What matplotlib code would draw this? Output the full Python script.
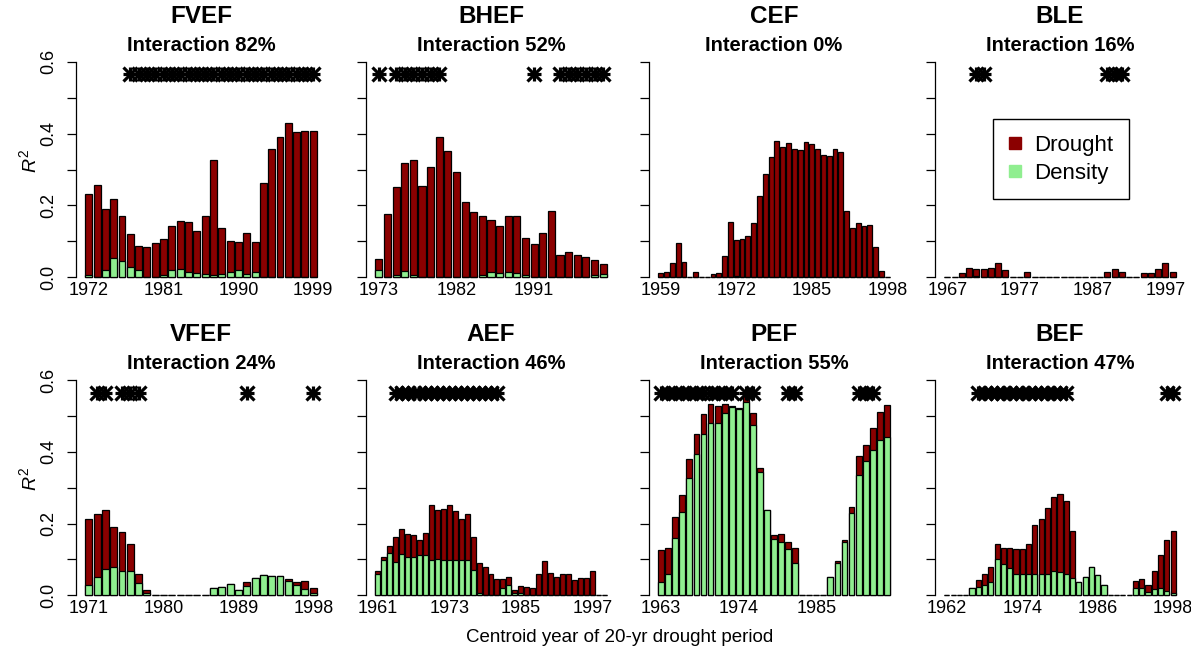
import numpy as np
import matplotlib
matplotlib.use('Agg')
import matplotlib.pyplot as plt
from matplotlib.lines import Line2D

plt.rcParams['font.family'] = ['Liberation Sans', 'DejaVu Sans']
plt.rcParams['mathtext.fontset'] = 'custom'
plt.rcParams['mathtext.rm'] = 'Liberation Sans'
plt.rcParams['mathtext.it'] = 'Liberation Sans:italic'

DROUGHT = '#8b0000'
DENSITY = '#90ee90'

# bar height = total R2, green part = density share
fvef_r2 = [0.232, 0.257, 0.190, 0.218, 0.172, 0.121, 0.088, 0.083, 0.096, 0.107,
           0.143, 0.156, 0.153, 0.129, 0.172, 0.328, 0.138, 0.102, 0.097, 0.122,
           0.097, 0.263, 0.356, 0.392, 0.430, 0.405, 0.408, 0.408]
fvef_dens = [0.005, 0, 0.020, 0.053, 0.044, 0.028, 0.020, 0, 0, 0.006,
             0.021, 0.022, 0.016, 0.013, 0.010, 0.005, 0.009, 0.014, 0.021, 0.008,
             0.015, 0, 0, 0, 0, 0, 0, 0]
fvef_stars = list(range(1977, 2000))

bhef_r2 = [0.050, 0.177, 0.252, 0.317, 0.328, 0.254, 0.307, 0.390, 0.352, 0.294,
           0.209, 0.182, 0.171, 0.160, 0.142, 0.170, 0.170, 0.110, 0.092, 0.124,
           0.185, 0.061, 0.070, 0.063, 0.056, 0.049, 0.036]
bhef_dens = [0.021, 0, 0.005, 0.017, 0.005, 0, 0, 0, 0, 0,
             0, 0, 0.007, 0.014, 0.013, 0.014, 0.013, 0.006, 0, 0,
             0, 0, 0, 0, 0, 0.006, 0.008]
bhef_stars = [1973, 1975, 1976, 1977, 1978, 1979, 1980, 1991,
              1994, 1995, 1996, 1997, 1998, 1999]

cef_r2 = [0.011, 0.016, 0.040, 0.096, 0.043, 0, 0.016, 0, 0, 0.008,
          0.011, 0.059, 0.155, 0.105, 0.108, 0.116, 0.152, 0.226, 0.289, 0.335,
          0.381, 0.364, 0.375, 0.358, 0.355, 0.378, 0.372, 0.358, 0.340, 0.338,
          0.358, 0.348, 0.186, 0.136, 0.151, 0.142, 0.145, 0.083, 0.018, 0]
cef_dens = [0] * 13 + [0.003] + [0] * 26
cef_stars = []

ble_r2 = [0, 0, 0.013, 0.025, 0.024, 0.024, 0.025, 0.041, 0.020, 0,
          0, 0.016, 0, 0, 0, 0, 0, 0, 0, 0,
          0, 0, 0.014, 0.024, 0.016, 0, 0, 0.011, 0.013, 0.022,
          0.039, 0.014]
ble_dens = [0, 0, 0, 0, 0.003] + [0] * 27
ble_stars = [1971, 1972, 1989, 1990, 1991]

vfef_r2 = [0.212, 0.227, 0.237, 0.189, 0.176, 0.142, 0.058, 0.015, 0, 0,
           0, 0, 0, 0, 0, 0.019, 0.022, 0.032, 0.014, 0.037,
           0.047, 0.057, 0.055, 0.055, 0.045, 0.036, 0.039, 0.021]
vfef_dens = [0.028, 0.050, 0.072, 0.080, 0.069, 0.067, 0.033, 0.006, 0, 0,
             0, 0, 0, 0, 0, 0.019, 0.022, 0.032, 0.014, 0.026,
             0.047, 0.057, 0.055, 0.055, 0.039, 0.028, 0.018, 0.006]
vfef_stars = [1972, 1973, 1975, 1976, 1977, 1990, 1998]

aef_r2 = [0.068, 0.106, 0.138, 0.162, 0.184, 0.172, 0.167, 0.155, 0.173, 0.251,
          0.239, 0.241, 0.251, 0.236, 0.214, 0.226, 0.163, 0.090, 0.078, 0.059,
          0.045, 0.045, 0.050, 0.014, 0.025, 0.022, 0.019, 0.058, 0.095, 0.061,
          0.051, 0.058, 0.058, 0.042, 0.047, 0.049, 0.067, 0, 0]
aef_dens = [0.060, 0.097, 0.117, 0.092, 0.114, 0.108, 0.108, 0.112, 0.113, 0.098,
            0.101, 0.099, 0.098, 0.097, 0.098, 0.098, 0.071, 0.007, 0, 0,
            0, 0.019, 0.028, 0.006, 0.006, 0, 0, 0, 0, 0,
            0, 0, 0, 0, 0, 0, 0, 0, 0]
aef_stars = list(range(1964, 1982))

pef_r2 = [0.125, 0.132, 0.218, 0.280, 0.381, 0.449, 0.505, 0.534, 0.527, 0.532,
          0.527, 0.521, 0.560, 0.507, 0.354, 0.238, 0.167, 0.172, 0.149, 0.131,
          0, 0, 0, 0, 0.050, 0.095, 0.154, 0.247, 0.388, 0.419,
          0.465, 0.512, 0.530]
pef_dens = [0.038, 0.058, 0.159, 0.233, 0.327, 0.393, 0.450, 0.481, 0.481, 0.507,
            0.525, 0.519, 0.539, 0.476, 0.343, 0.238, 0.157, 0.148, 0.128, 0.091,
            0, 0, 0, 0, 0.050, 0.089, 0.148, 0.230, 0.335, 0.374,
            0.405, 0.433, 0.442]
pef_stars = list(range(1963, 1974)) + [1975, 1976, 1981, 1982, 1991, 1992, 1993]

bef_r2 = [0, 0, 0, 0, 0.021, 0.044, 0.060, 0.078, 0.142, 0.131,
          0.132, 0.128, 0.128, 0.143, 0.196, 0.214, 0.242, 0.275, 0.281, 0.263,
          0.180, 0.037, 0.050, 0.079, 0.056, 0.028, 0, 0, 0, 0,
          0.041, 0.046, 0.029, 0.067, 0.112, 0.153, 0.180]
bef_dens = [0, 0, 0, 0, 0.021, 0.023, 0.029, 0.038, 0.101, 0.087,
            0.077, 0.060, 0.058, 0.058, 0.060, 0.058, 0.059, 0.069, 0.065, 0.060,
            0.049, 0.037, 0.050, 0.079, 0.056, 0.028, 0, 0, 0, 0,
            0.019, 0.019, 0.010, 0.017, 0.019, 0.011, 0.006]
bef_stars = list(range(1967, 1982)) + [1997, 1998]

names = ['FVEF', 'BHEF', 'CEF', 'BLE', 'VFEF', 'AEF', 'PEF', 'BEF']
interaction = [82, 52, 0, 16, 24, 46, 55, 47]
first_year = [1972, 1973, 1959, 1967, 1971, 1961, 1963, 1962]
year_ticks = [[1972, 1981, 1990, 1999], [1973, 1982, 1991],
              [1959, 1972, 1985, 1998], [1967, 1977, 1987, 1997],
              [1971, 1980, 1989, 1998], [1961, 1973, 1985, 1997],
              [1963, 1974, 1985], [1962, 1974, 1986, 1998]]
r2_all = [fvef_r2, bhef_r2, cef_r2, ble_r2, vfef_r2, aef_r2, pef_r2, bef_r2]
dens_all = [fvef_dens, bhef_dens, cef_dens, ble_dens,
            vfef_dens, aef_dens, pef_dens, bef_dens]
stars_all = [fvef_stars, bhef_stars, cef_stars, ble_stars,
             vfef_stars, aef_stars, pef_stars, bef_stars]

W, H = 1191, 653
fig = plt.figure(figsize=(W / 100, H / 100), dpi=100)

# plot regions in pixels: left edges, width, and top/bottom of each row
lefts = [76, 366, 649, 935]
pw = 250
rows = [(53.3, 285.9), (371.4, 603.9)]


def draw_panel(ax, k):
    r2 = np.array(r2_all[k])
    dens = np.array(dens_all[k])
    n = len(r2)
    first = first_year[k]
    # barplot-like layout: width 1, space 0.2
    pos = 0.2 + 1.2 * np.arange(n) + 0.5
    ax.bar(pos, r2, width=1, color=DROUGHT, edgecolor='black', linewidth=0.9)
    ax.bar(pos, dens, width=1, color=DENSITY, edgecolor='black', linewidth=0.9)

    for yr in stars_all[k]:
        x = pos[yr - first]
        ax.plot(x, 0.565, marker='+', ms=10.5, mew=2.3, color='black')
        ax.plot(x, 0.565, marker='x', ms=9.5, mew=2.3, color='black')

    span = 1.2 * n - 0.2
    ax.set_xlim(0.2 - 0.04 * span, 1.2 * n + 0.04 * span)
    ax.set_ylim(-0.024, 0.624)

    ax.set_xticks([pos[t - first] for t in year_ticks[k]])
    ax.set_xticklabels([str(t) for t in year_ticks[k]])
    ax.tick_params(axis='x', length=0, pad=-3, labelsize=13)

    ax.set_yticks(np.arange(0, 0.61, 0.1))
    if k % 4 == 0:
        ax.set_yticklabels(['0.0', '', '0.2', '', '0.4', '', '0.6'])
    else:
        ax.set_yticklabels([''] * 7)
    ax.tick_params(axis='y', length=6.7, width=0.9, direction='out',
                   labelsize=13, pad=7, labelrotation=90)
    for lab in ax.get_yticklabels():
        lab.set_va('center')

    for s in ['top', 'right', 'bottom']:
        ax.spines[s].set_visible(False)
    ax.spines['left'].set_bounds(0, 0.6)
    ax.spines['left'].set_linewidth(0.9)

    ax.text(0.5, 1.158, names[k], transform=ax.transAxes, ha='center',
            va='center', fontsize=17.5, fontweight='bold')
    ax.text(0.5, 1.032, 'Interaction %d%%' % interaction[k],
            transform=ax.transAxes, ha='center', va='center',
            fontsize=14.5, fontweight='bold')


axes = []
for k in range(8):
    top, bot = rows[k // 4]
    left = lefts[k % 4]
    ax = fig.add_axes([left / W, 1 - bot / H, pw / W, (bot - top) / H])
    draw_panel(ax, k)
    axes.append(ax)

for top, bot in rows:
    fig.text(29 / W, 1 - (top + bot - 18) / 2 / H, r'$R^2$', rotation=90,
             ha='center', va='center', fontsize=14)

fig.text(620 / W, 1 - 637 / H, 'Centroid year of 20-yr drought period',
         ha='center', va='center', fontsize=13.5)

handles = [Line2D([], [], marker='s', ls='none', ms=8, color=DROUGHT),
           Line2D([], [], marker='s', ls='none', ms=8, color=DENSITY)]
leg = axes[3].legend(handles, ['Drought', 'Density'], loc='upper left',
                     bbox_to_anchor=(0.231, 0.716), fontsize=16,
                     frameon=True, fancybox=False, edgecolor='black',
                     framealpha=1, borderpad=0.7, handlelength=0.6,
                     handletextpad=0.55, labelspacing=0.3, borderaxespad=0)
leg.get_frame().set_linewidth(1.0)

fig.savefig('out.png', dpi=100)
